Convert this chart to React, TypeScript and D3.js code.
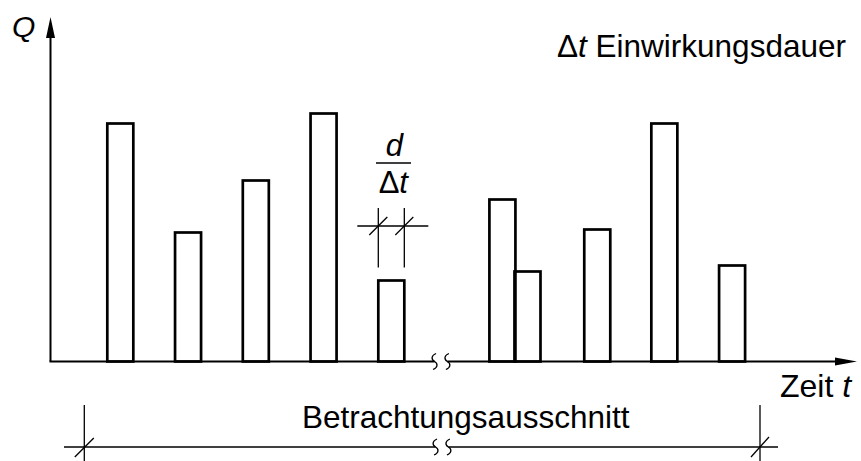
import React from "react";
import * as d3 from "d3";

// Data: start times of the load pulses (time units), their duration and magnitude Q
const startTimes = [0, 1, 2, 3, 4, 5.64, 6.01, 7.04, 8.03, 9.03];
const durations = [0.384, 0.384, 0.384, 0.384, 0.384, 0.384, 0.384, 0.384, 0.384, 0.384];
const qValues = [23.8, 12.9, 18.1, 24.8, 8.1, 16.2, 9.0, 13.2, 23.8, 9.6];
const breakTimes = [4.83, 5.02];
const dimIndex = 4;

const W = 861;
const H = 461;
const FONT = "'Liberation Sans', Arial, Helvetica, sans-serif";

const x = d3.scaleLinear().domain([0, 10]).range([107.3, 784.8]);
const y = d3.scaleLinear().domain([0, 25]).range([361.5, 111.5]);

const axisX = 50.5;
const axisY = y(0);

function squiggle(cx: number, cy: number) {
  const p = d3.path();
  p.moveTo(cx + 1.5, cy - 8);
  p.bezierCurveTo(cx - 3.5, cy - 6, cx - 3.5, cy - 2, cx, cy);
  p.bezierCurveTo(cx + 3.5, cy + 2, cx + 3.5, cy + 6, cx - 1.5, cy + 8);
  return p.toString();
}

export default function App() {
  const bx0 = x(breakTimes[0]);
  const bx1 = x(breakTimes[1]);
  const dimY = 447;
  const dimL = 84.3;
  const dimR = 760;
  const dl = x(startTimes[dimIndex]);
  const dr = x(startTimes[dimIndex] + durations[dimIndex]);
  const dTop = y(qValues[dimIndex]);
  const dimLineY = 226;
  return (
    <svg
      width={W}
      height={H}
      style={{ position: "absolute", left: 0, top: 0, background: "#fff" }}
      fontFamily={FONT}
    >
      <rect x={0} y={0} width={W} height={H} fill="#fff" />
      {/* y axis */}
      <line x1={axisX} y1={axisY} x2={axisX} y2={30} stroke="#000" strokeWidth={2} />
      <path d={`M${axisX},17 L${axisX - 4.5},38 L${axisX + 4.5},38 Z`} fill="#000" />
      {/* x axis with break */}
      <line x1={axisX - 1} y1={axisY} x2={bx0} y2={axisY} stroke="#000" strokeWidth={2} />
      <line x1={bx1} y1={axisY} x2={840} y2={axisY} stroke="#000" strokeWidth={2} />
      <path d={`M857,${axisY} L835,${axisY - 4} L835,${axisY + 4} Z`} fill="#000" />
      <path d={squiggle(bx0, axisY)} fill="none" stroke="#000" strokeWidth={1.3} />
      <path d={squiggle(bx1, axisY)} fill="none" stroke="#000" strokeWidth={1.3} />
      {/* bars */}
      {startTimes.map((t, i) => (
        <rect
          key={i}
          x={x(t)}
          y={y(qValues[i])}
          width={x(t + durations[i]) - x(t)}
          height={axisY - y(qValues[i])}
          fill="none"
          stroke="#000"
          strokeWidth={2.7}
        />
      ))}
      {/* duration dimension on bar 5 */}
      <line x1={dl} y1={208} x2={dl} y2={dTop - 13} stroke="#000" strokeWidth={1.3} />
      <line x1={dr} y1={208} x2={dr} y2={dTop - 13} stroke="#000" strokeWidth={1.3} />
      <line x1={dl - 21} y1={dimLineY} x2={dr + 24} y2={dimLineY} stroke="#000" strokeWidth={1.3} />
      <line x1={dl - 9} y1={dimLineY + 9} x2={dl + 9} y2={dimLineY - 9} stroke="#000" strokeWidth={1.3} />
      <line x1={dr - 9} y1={dimLineY + 9} x2={dr + 9} y2={dimLineY - 9} stroke="#000" strokeWidth={1.3} />
      <text x={(dl + dr) / 2 + 3} y={156} fontSize={31} fontStyle="italic" textAnchor="middle">d</text>
      <line x1={376} y1={163} x2={411} y2={163} stroke="#000" strokeWidth={1.5} />
      <text x={(dl + dr) / 2 + 2} y={193} fontSize={31} textAnchor="middle">
        Δ<tspan fontStyle="italic">t</tspan>
      </text>
      {/* labels */}
      <text x={12} y={37} fontSize={30} fontStyle="italic">Q</text>
      <text x={557} y={57} fontSize={31.5}>
        Δ<tspan fontStyle="italic">t</tspan> Einwirkungsdauer
      </text>
      <text x={780} y={397} fontSize={32}>
        Zeit <tspan fontStyle="italic">t</tspan>
      </text>
      <text x={302} y={428} fontSize={31.5}>Betrachtungsausschnitt</text>
      {/* observation window dimension */}
      <line x1={dimL} y1={405} x2={dimL} y2={H} stroke="#000" strokeWidth={1.3} />
      <line x1={dimR} y1={405} x2={dimR} y2={H} stroke="#000" strokeWidth={1.3} />
      <line x1={64} y1={dimY} x2={x(breakTimes[0]) + 1} y2={dimY} stroke="#000" strokeWidth={1.3} />
      <line x1={x(breakTimes[1]) + 1} y1={dimY} x2={778} y2={dimY} stroke="#000" strokeWidth={1.3} />
      <path d={squiggle(x(breakTimes[0]) + 1, dimY)} fill="none" stroke="#000" strokeWidth={1.3} />
      <path d={squiggle(x(breakTimes[1]) + 1, dimY)} fill="none" stroke="#000" strokeWidth={1.3} />
      <line x1={dimL - 9.5} y1={dimY + 10} x2={dimL + 9.5} y2={dimY - 9} stroke="#000" strokeWidth={1.3} />
      <line x1={dimR - 9} y1={dimY + 10} x2={dimR + 9} y2={dimY - 10} stroke="#000" strokeWidth={1.3} />
    </svg>
  );
}
